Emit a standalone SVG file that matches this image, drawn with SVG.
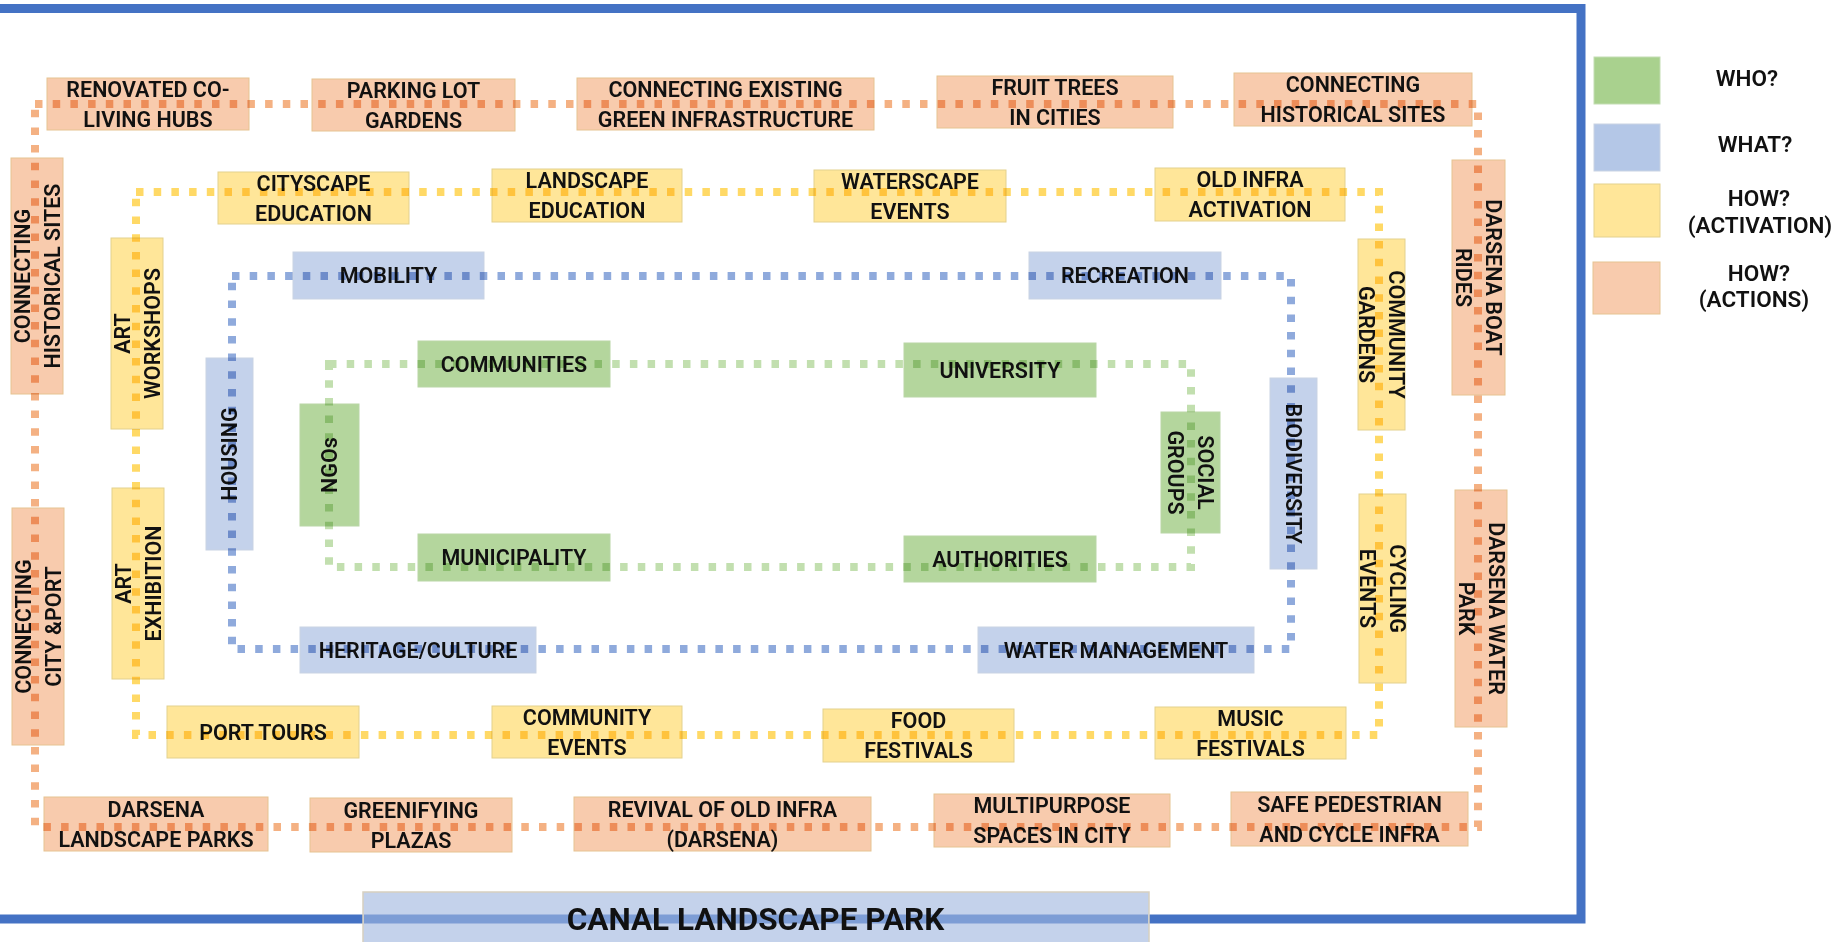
<svg xmlns="http://www.w3.org/2000/svg" width="1835" height="942" viewBox="0 0 1835 942">
<style>
text{font-family:Roboto,"Liberation Sans",sans-serif;font-weight:600;font-size:21.5px;fill:#111;text-anchor:middle}
.act rect{fill:#F8CBAD;stroke:#E6C391;stroke-width:1}
.actv rect{fill:#FFE699;stroke:#E3D18E;stroke-width:1}
.what rect{fill:#C4D2EB;stroke:#C9D3E3;stroke-width:1}
.who rect{fill:#B4D69D;stroke:#B9D6A6;stroke-width:1}
.dots path{fill:none;stroke-width:8;stroke-dasharray:7.5 10.2;mix-blend-mode:multiply}
.leg text{font-size:22.5px}
</style>
<rect x="0" y="0" width="1835" height="942" fill="#fff"/>
<g id="frame"><path d="M-10 8.5H1581V919H-10" fill="none" stroke="#4472C4" stroke-width="9"/></g>
<g id="title">
<rect x="363" y="892" width="786" height="60" fill="#C4D2EB" stroke="#D6D0C0" stroke-width="1.5"/>
<path d="M364 919H1148" stroke="#4472C4" stroke-width="9" opacity="0.55"/>
<text x="755.5" y="930" style="font-size:31.5px;font-weight:700">CANAL LANDSCAPE PARK</text>
</g>

<g id="n-renovated" class="act"><rect x="47" y="78" width="202" height="52"/><text><tspan x="148" y="96.5">RENOVATED CO-</tspan><tspan x="148" y="126.5">LIVING HUBS</tspan></text></g>
<g id="n-parking" class="act"><rect x="312" y="79" width="203" height="52"/><text><tspan x="413.5" y="97.5">PARKING LOT</tspan><tspan x="413.5" y="127.5">GARDENS</tspan></text></g>
<g id="n-green-infra" class="act"><rect x="577" y="78" width="297" height="52"/><text><tspan x="725.5" y="96.5">CONNECTING EXISTING</tspan><tspan x="725.5" y="126.5">GREEN INFRASTRUCTURE</tspan></text></g>
<g id="n-fruit" class="act"><rect x="937" y="76" width="236" height="52"/><text><tspan x="1055" y="94.5">FRUIT TREES</tspan><tspan x="1055" y="124.5">IN CITIES</tspan></text></g>
<g id="n-hist-top" class="act"><rect x="1234" y="73" width="238" height="53"/><text><tspan x="1353" y="92">CONNECTING</tspan><tspan x="1353" y="122">HISTORICAL SITES</tspan></text></g>
<g id="n-hist-left" class="act"><rect x="11" y="158" width="52" height="236"/><text transform="translate(37 276) rotate(-90)"><tspan x="0" y="-7.5">CONNECTING</tspan><tspan x="0" y="22.5">HISTORICAL SITES</tspan></text></g>
<g id="n-cityport" class="act"><rect x="12" y="508" width="52" height="237"/><text transform="translate(38 626.5) rotate(-90)"><tspan x="0" y="-7.5">CONNECTING</tspan><tspan x="0" y="22.5">CITY &amp;PORT</tspan></text></g>
<g id="n-boat" class="act"><rect x="1452" y="160" width="53" height="235"/><text transform="translate(1478.5 277.5) rotate(90)"><tspan x="0" y="-7.5">DARSENA BOAT</tspan><tspan x="0" y="22.5">RIDES</tspan></text></g>
<g id="n-waterpark" class="act"><rect x="1455" y="490" width="52" height="237"/><text transform="translate(1481 608.5) rotate(90)"><tspan x="0" y="-7.5">DARSENA WATER</tspan><tspan x="0" y="22.5">PARK</tspan></text></g>
<g id="n-landscape-parks" class="act"><rect x="44" y="797" width="224" height="54"/><text><tspan x="156" y="816.5">DARSENA</tspan><tspan x="156" y="846.5">LANDSCAPE PARKS</tspan></text></g>
<g id="n-plazas" class="act"><rect x="310" y="798" width="202" height="54"/><text><tspan x="411" y="817.5">GREENIFYING</tspan><tspan x="411" y="847.5">PLAZAS</tspan></text></g>
<g id="n-revival" class="act"><rect x="574" y="797" width="297" height="54"/><text><tspan x="722.5" y="816.5">REVIVAL OF OLD INFRA</tspan><tspan x="722.5" y="846.5">(DARSENA)</tspan></text></g>
<g id="n-multipurpose" class="act"><rect x="934" y="794" width="236" height="53"/><text><tspan x="1052" y="813">MULTIPURPOSE</tspan><tspan x="1052" y="843">SPACES IN CITY</tspan></text></g>
<g id="n-safe" class="act"><rect x="1231" y="792" width="237" height="54"/><text><tspan x="1349.5" y="811.5">SAFE PEDESTRIAN</tspan><tspan x="1349.5" y="841.5">AND CYCLE INFRA</tspan></text></g>

<g id="n-cityscape" class="actv"><rect x="218" y="172" width="191" height="52"/><text><tspan x="313.5" y="190.5">CITYSCAPE</tspan><tspan x="313.5" y="220.5">EDUCATION</tspan></text></g>
<g id="n-landscape-edu" class="actv"><rect x="492" y="169" width="190" height="53"/><text><tspan x="587" y="188">LANDSCAPE</tspan><tspan x="587" y="218">EDUCATION</tspan></text></g>
<g id="n-waterscape" class="actv"><rect x="814" y="170" width="192" height="52"/><text><tspan x="910" y="188.5">WATERSCAPE</tspan><tspan x="910" y="218.5">EVENTS</tspan></text></g>
<g id="n-oldinfra" class="actv"><rect x="1155" y="168" width="190" height="53"/><text><tspan x="1250" y="187">OLD INFRA</tspan><tspan x="1250" y="217">ACTIVATION</tspan></text></g>
<g id="n-workshops" class="actv"><rect x="111" y="238" width="52" height="191"/><text transform="translate(137 333.5) rotate(-90)"><tspan x="0" y="-7.5">ART</tspan><tspan x="0" y="22.5">WORKSHOPS</tspan></text></g>
<g id="n-exhibition" class="actv"><rect x="112" y="488" width="52" height="191"/><text transform="translate(138 583.5) rotate(-90)"><tspan x="0" y="-7.5">ART</tspan><tspan x="0" y="22.5">EXHIBITION</tspan></text></g>
<g id="n-gardens" class="actv"><rect x="1358" y="239" width="47" height="191"/><text transform="translate(1381.5 334.5) rotate(90)"><tspan x="0" y="-7.5">COMMUNITY</tspan><tspan x="0" y="22.5">GARDENS</tspan></text></g>
<g id="n-cycling" class="actv"><rect x="1359" y="494" width="47" height="189"/><text transform="translate(1382.5 588.5) rotate(90)"><tspan x="0" y="-7.5">CYCLING</tspan><tspan x="0" y="22.5">EVENTS</tspan></text></g>
<g id="n-porttours" class="actv"><rect x="167" y="706" width="192" height="52"/><text x="263" y="739.5">PORT TOURS</text></g>
<g id="n-comm-events" class="actv"><rect x="492" y="706" width="190" height="52"/><text><tspan x="587" y="724.5">COMMUNITY</tspan><tspan x="587" y="754.5">EVENTS</tspan></text></g>
<g id="n-food" class="actv"><rect x="823" y="709" width="191" height="53"/><text><tspan x="918.5" y="728">FOOD</tspan><tspan x="918.5" y="758">FESTIVALS</tspan></text></g>
<g id="n-music" class="actv"><rect x="1155" y="707" width="191" height="52"/><text><tspan x="1250.5" y="725.5">MUSIC</tspan><tspan x="1250.5" y="755.5">FESTIVALS</tspan></text></g>

<g id="n-mobility" class="what"><rect x="293" y="252" width="191" height="47"/><text x="388.5" y="283">MOBILITY</text></g>
<g id="n-recreation" class="what"><rect x="1029" y="252" width="192" height="47"/><text x="1125" y="283">RECREATION</text></g>
<g id="n-housing" class="what"><rect x="206" y="358" width="47" height="192"/><text transform="translate(229.5 454) rotate(-90)" x="0" y="7.5">HOUSING</text></g>
<g id="n-biodiversity" class="what"><rect x="1270" y="378" width="47" height="191"/><text transform="translate(1293.5 473.5) rotate(90)" x="0" y="7.5">BIODIVERSITY</text></g>
<g id="n-heritage" class="what"><rect x="300" y="627" width="236" height="46"/><text x="418" y="657.5">HERITAGE/CULTURE</text></g>
<g id="n-water" class="what"><rect x="978" y="627" width="276" height="46"/><text x="1116" y="657.5">WATER MANAGEMENT</text></g>

<g id="n-communities" class="who"><rect x="418" y="341" width="192" height="46"/><text x="514" y="371.5">COMMUNITIES</text></g>
<g id="n-university" class="who"><rect x="904" y="343" width="192" height="54"/><text x="1000" y="378">UNIVERSITY</text></g>
<g id="n-ngos" class="who"><rect x="300" y="404" width="59" height="122"/><text transform="translate(329.5 465) rotate(-90)" x="0" y="7.5">NGOs</text></g>
<g id="n-social" class="who"><rect x="1161" y="412" width="59" height="121"/><text transform="translate(1190.5 472.5) rotate(90)"><tspan x="0" y="-7.5">SOCIAL</tspan><tspan x="0" y="22.5">GROUPS</tspan></text></g>
<g id="n-municipality" class="who"><rect x="418" y="534" width="192" height="47"/><text x="514" y="565">MUNICIPALITY</text></g>
<g id="n-authorities" class="who"><rect x="904" y="536" width="192" height="46"/><text x="1000" y="566.5">AUTHORITIES</text></g>

<g id="connectors" class="dots">
<path d="M35 104H1478V827H35Z" stroke="#F4B183"/>
<path d="M136 192H1379V735H136Z" stroke="#FFD966"/>
<path d="M232 276H1291V649H232Z" stroke="#8FAADC"/>
<path d="M329 364H1191V567H329Z" stroke="#C2DFAF"/>
</g>

<g id="legend" class="leg">
<g id="leg-who"><rect x="1594" y="57" width="66" height="47" fill="#A9D18E" stroke="#C3DDB3"/><text x="1747" y="86">WHO?</text></g>
<g id="leg-what"><rect x="1594" y="124" width="66" height="47" fill="#B4C7E7" stroke="#C9D3E3"/><text x="1755" y="152">WHAT?</text></g>
<g id="leg-activation"><rect x="1594" y="184" width="66" height="53" fill="#FFE699" stroke="#E3D18E"/><text><tspan x="1759" y="206">HOW?</tspan><tspan x="1760" y="233">(ACTIVATION)</tspan></text></g>
<g id="leg-actions"><rect x="1593" y="262" width="67" height="52" fill="#F8CBAD" stroke="#E6C391"/><text><tspan x="1759" y="281">HOW?</tspan><tspan x="1754" y="307">(ACTIONS)</tspan></text></g>
</g>
</svg>
